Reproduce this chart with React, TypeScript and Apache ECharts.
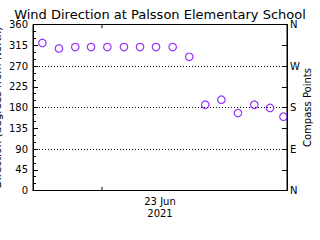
import React, { useEffect, useRef } from "react";
import * as echarts from "echarts";

const titleText = "Wind Direction at Palsson Elementary School";
const leftAxisName = "Direction (degrees from North)";
const rightAxisName = "Compass Points";
const dateLabel = "23 Jun\n2021";

// hours relative to midnight of 23 Jun 2021
const hours = [-3.7, -2.67, -1.66, -0.68, 0.33, 1.36, 2.36, 3.35, 4.38, 5.41, 6.4, 7.4, 8.43, 9.44, 10.42, 11.25];
const direction = [320, 308, 311, 311, 311, 311, 311, 311, 311, 290, 186, 197, 168, 186, 179, 160];

const xMin = -4.28;
const xMax = 11.47;
const dayTick = 0;

const compassTicks = [0, 90, 180, 270, 360];
const compassNames = ["N", "E", "S", "W", "N"];

const FONT = "DejaVu Sans";

export default function App() {
  const ref = useRef<HTMLDivElement>(null);
  useEffect(() => {
    if (!ref.current) return;
    const chart = echarts.init(ref.current, null, { renderer: "svg" });
    const points = hours.map((h, i) => [h, direction[i]]);
    const axisCommon = {
      type: "value",
      min: 0,
      max: 360,
      nameMoveOverlap: false,
      axisLine: { show: true, onZero: false, lineStyle: { color: "#000", width: 1 } },
    };
    const tickSeries = (from: number, to: number) => ({
      type: "line",
      yAxisIndex: 0,
      data: [
        [dayTick, from],
        [dayTick, to],
      ],
      symbol: "none",
      silent: true,
      lineStyle: { color: "#000", width: 1 },
    });
    chart.setOption({
      animation: false,
      backgroundColor: "#fff",
      title: {
        text: titleText,
        left: "center",
        top: 3,
        textStyle: { fontFamily: FONT, fontSize: 13, fontWeight: "normal", color: "#000" },
      },
      grid: {
        left: 33,
        right: 33,
        top: 24.5,
        bottom: 49.5,
        show: true,
        borderColor: "#000",
        borderWidth: 1,
        backgroundColor: "transparent",
        containLabel: false,
        outerBoundsMode: "none",
      },
      xAxis: {
        type: "value",
        min: xMin,
        max: xMax,
        nameMoveOverlap: false,
        axisLine: { show: true, onZero: false, lineStyle: { color: "#000" } },
        axisTick: { show: false },
        axisLabel: { show: false },
        splitLine: { show: false },
        name: dateLabel,
        nameLocation: "middle",
        nameGap: 5,
        nameTextStyle: {
          fontFamily: FONT,
          fontSize: 10,
          color: "#000",
          lineHeight: 12,
          verticalAlign: "top",
          align: "center",
        },
      },
      yAxis: [
        {
          ...axisCommon,
          position: "left",
          interval: 45,
          axisTick: { show: true, inside: true, length: 5, lineStyle: { color: "#000" } },
          minorTick: { show: true, splitNumber: 3, length: 3, lineStyle: { color: "#000" } },
          axisLabel: { fontFamily: FONT, fontSize: 10, color: "#000", margin: 5 },
          splitLine: { show: false },
          name: leftAxisName,
          nameLocation: "middle",
          nameRotate: 90,
          nameGap: 31,
          nameTextStyle: { fontFamily: FONT, fontSize: 10.5, color: "#000" },
        },
        {
          ...axisCommon,
          position: "right",
          interval: 45,
          axisTick: { show: true, inside: true, length: 5, lineStyle: { color: "#000" } },
          axisLabel: {
            fontFamily: FONT,
            fontSize: 10,
            color: "#000",
            margin: 3,
            formatter: (v: number) => {
              const idx = compassTicks.indexOf(v);
              return idx >= 0 ? compassNames[idx] : "";
            },
          },
          splitLine: { show: false },
          name: rightAxisName,
          nameLocation: "middle",
          nameRotate: 90,
          nameGap: 15,
          nameTextStyle: { fontFamily: FONT, fontSize: 10, color: "#000" },
        },
        {
          ...axisCommon,
          position: "left",
          interval: 90,
          axisLine: { show: false, onZero: false },
          axisTick: { show: false },
          axisLabel: { show: false },
          splitLine: { show: true, lineStyle: { color: "#000", type: [1, 2], width: 1 } },
        },
      ],
      series: [
        {
          type: "scatter",
          yAxisIndex: 0,
          data: points,
          symbol: "circle",
          symbolSize: 7.5,
          itemStyle: { color: "transparent", borderColor: "#7a00ff", borderWidth: 1.2 },
        },
        tickSeries(0, 8),
        tickSeries(360, 352),
      ],
    });
    return () => chart.dispose();
  }, []);
  return <div ref={ref} style={{ width: 320, height: 240, position: "absolute", left: 0, top: 0 }} />;
}
